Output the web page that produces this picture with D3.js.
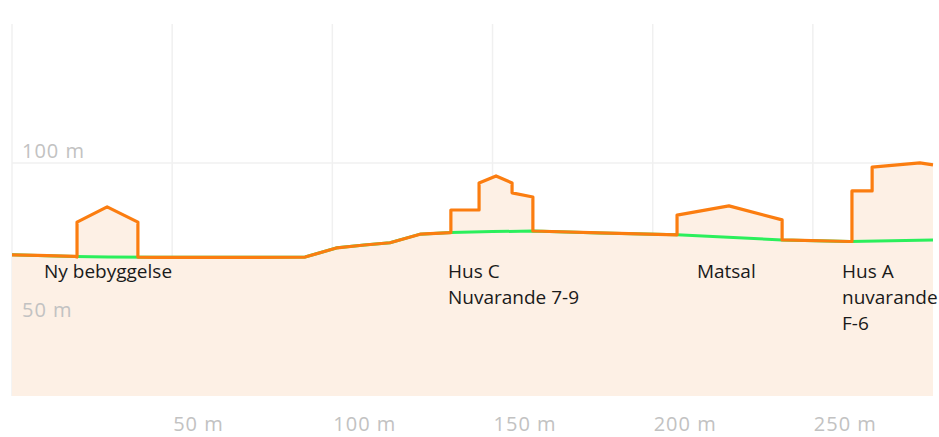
<!DOCTYPE html>
<html><head><meta charset="utf-8">
<script src="https://cdn.jsdelivr.net/npm/d3@7"></script>
<style>
html,body{margin:0;padding:0;background:#fff;}
svg{display:block;}
</style></head>
<body>
<svg id="chart" width="939" height="437"></svg>
<script>
// Distance along profile (m) and ground elevation (m) - green line
const groundDist = [0, 8, 19.7, 30, 45, 70, 91.5, 101.5, 110, 118, 127.4, 137, 150, 162.6, 183.5, 207.6, 240.4, 261.6, 287.5];
const groundElev = [71.1, 70.9, 70.6, 70.4, 70.3, 70.3, 70.4, 73.3, 74.2, 74.9, 77.6, 78.1, 78.4, 78.6, 78.0, 77.4, 75.8, 75.3, 75.8];

// Surface incl. buildings - orange line
const surfaceDist = [0, 8, 19.7, 20.3, 20.3, 29.7, 39.3, 39.3, 45, 70, 91.5, 101.5, 110, 118, 127.4, 137, 137, 145.8, 145.8, 151.1, 156.1, 156.1, 162.6, 162.6, 183.5, 207.6, 207.6, 223.8, 240.4, 240.4, 261.6, 262.2, 262.2, 268.5, 268.5, 283.4, 287.5];
const surfaceElev = [71.1, 70.9, 70.6, 70.4, 81.4, 86.2, 81.4, 70.4, 70.3, 70.3, 70.4, 73.3, 74.2, 74.9, 77.6, 78.1, 85.2, 85.2, 93.7, 95.9, 93.7, 90.6, 89.3, 78.6, 78.0, 77.4, 83.6, 86.5, 82.1, 75.8, 75.3, 75.3, 91.2, 91.2, 98.7, 100.0, 99.4];

// Building labels
const labelLines = [["Ny bebyggelse"], ["Hus C", "Nuvarande 7-9"], ["Matsal"], ["Hus A", "nuvarande", "F-6"]];
const labelDist = [10, 136.1, 213.8, 259.1];

// Axis ticks
const xTicks = [0, 50, 100, 150, 200, 250];
const xTickLabels = ["", "50 m", "100 m", "150 m", "200 m", "250 m"];
const yTicks = [50, 100];
const yTickLabels = ["50 m", "100 m"];

const svg = d3.select("#chart");
const pLeft = 12, pRight = 933, pTop = 24, pBottom = 396;
const x = d3.scaleLinear().domain([0, 287.5]).range([pLeft, pRight]);
const y = d3.scaleLinear().domain([26.7, 143.7]).range([pBottom, pTop]);

// gridlines
const grid = svg.append("g");
grid.selectAll("line.v").data(xTicks).join("line")
  .attr("x1", d => x(d)).attr("x2", d => x(d))
  .attr("y1", pTop).attr("y2", pBottom)
  .attr("stroke", "#f0f0f0").attr("stroke-width", 1.5);
grid.selectAll("line.h").data(yTicks).join("line")
  .attr("x1", pLeft).attr("x2", pRight)
  .attr("y1", d => y(d)).attr("y2", d => y(d))
  .attr("stroke", "#f0f0f0").attr("stroke-width", 1.5);

const surface = surfaceDist.map((d, i) => [d, surfaceElev[i]]);
const ground = groundDist.map((d, i) => [d, groundElev[i]]);

svg.append("path").datum(surface)
  .attr("d", d3.area().x(d => x(d[0])).y0(pBottom).y1(d => y(d[1])))
  .attr("fill", "#fdf0e5");

svg.append("path").datum(ground)
  .attr("d", d3.line().x(d => x(d[0])).y(d => y(d[1])))
  .attr("fill", "none").attr("stroke", "#2bef5c").attr("stroke-width", 3);

svg.append("path").datum(surface)
  .attr("d", d3.line().x(d => x(d[0])).y(d => y(d[1])))
  .attr("fill", "none").attr("stroke", "#fb7d10").attr("stroke-width", 3.2)
  .attr("stroke-linejoin", "round");

// y tick labels
svg.selectAll("text.yt").data(yTicks).join("text")
  .attr("x", pLeft + 10).attr("y", d => y(d) - 5)
  .attr("font-family", "Open Sans, sans-serif").attr("font-size", 20)
  .attr("letter-spacing", 1)
  .attr("fill", "#c2c2c2")
  .text((d, i) => yTickLabels[i]);

// x tick labels
svg.selectAll("text.xt").data(xTicks).join("text")
  .attr("x", d => x(d) + 1).attr("y", 431)
  .attr("font-family", "Open Sans, sans-serif").attr("font-size", 20)
  .attr("letter-spacing", 1)
  .attr("fill", "#c2c2c2")
  .text((d, i) => xTickLabels[i]);

// building labels
labelLines.forEach((lines, i) => {
  const t = svg.append("text")
    .attr("font-family", "Open Sans, sans-serif").attr("font-size", 19)
    .attr("fill", "#1a1a1a");
  lines.forEach((s, j) => {
    t.append("tspan").attr("x", x(labelDist[i])).attr("y", 278 + j * 26).text(s);
  });
});
</script>
</body></html>
